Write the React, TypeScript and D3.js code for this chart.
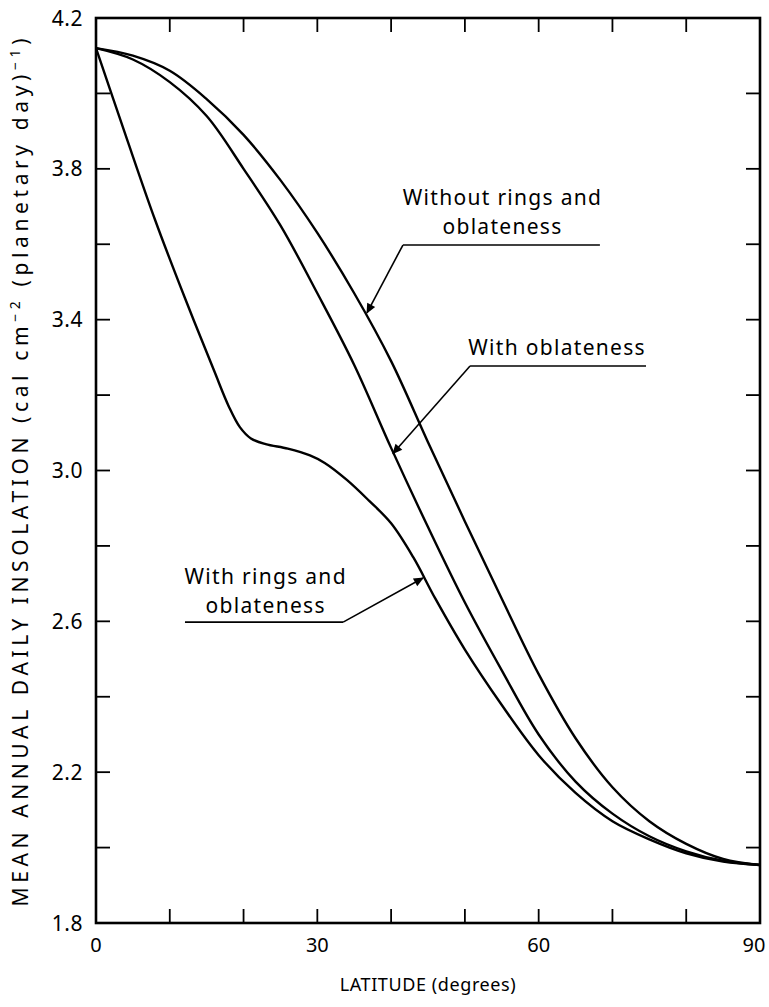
import React from "react";
import * as d3 from "d3";

const W = 769;
const H = 1007;

// Latitude (degrees) and mean annual daily insolation
const withoutLat = [0, 5, 10, 15, 20, 25, 30, 35, 40, 45, 50, 55, 60, 65, 70, 75, 80, 85, 90];
const withoutVal = [4.12, 4.10, 4.06, 3.985, 3.89, 3.77, 3.63, 3.47, 3.29, 3.075, 2.865, 2.66, 2.46, 2.29, 2.16, 2.07, 2.01, 1.97, 1.954];

const oblLat = [0, 5, 10, 15, 20, 25, 30, 35, 40, 45, 50, 55, 60, 65, 70, 75, 80, 85, 90];
const oblVal = [4.12, 4.09, 4.03, 3.94, 3.80, 3.65, 3.47, 3.28, 3.06, 2.85, 2.65, 2.47, 2.30, 2.175, 2.09, 2.03, 1.99, 1.965, 1.954];

const ringsLat = [0, 4, 8, 12, 16, 18, 19.5, 21, 23, 26, 29, 31, 34, 37, 40, 43, 46, 50, 55, 60, 65, 70, 75, 80, 85, 90];
const ringsVal = [4.12, 3.89, 3.665, 3.46, 3.265, 3.17, 3.115, 3.085, 3.07, 3.058, 3.04, 3.02, 2.975, 2.92, 2.86, 2.77, 2.66, 2.525, 2.378, 2.245, 2.145, 2.07, 2.022, 1.985, 1.963, 1.954];

const xTicks = [0, 10, 20, 30, 40, 50, 60, 70, 80, 90];
const xTickLabels = [0, 30, 60, 90];
const yTicks = [1.8, 2.0, 2.2, 2.4, 2.6, 2.8, 3.0, 3.2, 3.4, 3.6, 3.8, 4.0, 4.2];
const yTickLabels = [1.8, 2.2, 2.6, 3.0, 3.4, 3.8, 4.2];

// Annotation labels (text lines, text anchor, underline and arrow tip, in data units)
const annoLines = [
  ["Without rings and", "oblateness"],
  ["With oblateness"],
  ["With rings and", "oblateness"],
];
const annoTextLat = [55.1, 62.5, 23.0];
const annoTextVal = [3.704, 3.306, 2.699];
const annoUnderFrom = [41.6, 50.7, 12.06];
const annoUnderTo = [68.3, 74.55, 33.5];
const annoUnderVal = [3.598, 3.277, 2.598];
const annoTipLat = [36.73, 40.25, 44.32];
const annoTipVal = [3.418, 3.045, 2.715];
const annoStartIsRight = [false, false, true];

const FONT = "'Noto Sans', sans-serif";

export default function App() {
  const left = 96, right = 760, top = 18, bottom = 923;
  const x = d3.scaleLinear().domain([0, 90]).range([left, right]);
  const y = d3.scaleLinear().domain([1.8, 4.2]).range([bottom, top]);

  const line = d3
    .line<[number, number]>()
    .x((d) => x(d[0]))
    .y((d) => y(d[1]))
    .curve(d3.curveCatmullRom.alpha(0.5));

  const series = [
    d3.zip(withoutLat, withoutVal) as [number, number][],
    d3.zip(oblLat, oblVal) as [number, number][],
    d3.zip(ringsLat, ringsVal) as [number, number][],
  ];

  const tickLen = 14;
  const fs = 21;
  const lineGap = 29;

  return (
    <svg
      width={W}
      height={H}
      style={{ position: "absolute", left: 0, top: 0, background: "#fff" }}
      fontFamily={FONT}
    >
      <rect x={0} y={0} width={W} height={H} fill="#fff" />
      {/* ticks */}
      {xTicks.map((t) => (
        <g key={"xt" + t} stroke="#000" strokeWidth={1.8}>
          <line x1={x(t)} x2={x(t)} y1={bottom} y2={bottom - tickLen} />
          <line x1={x(t)} x2={x(t)} y1={top} y2={top + tickLen} />
        </g>
      ))}
      {yTicks.map((t) => (
        <g key={"yt" + t} stroke="#000" strokeWidth={1.8}>
          <line x1={left} x2={left + tickLen} y1={y(t)} y2={y(t)} />
          <line x1={right} x2={right - tickLen} y1={y(t)} y2={y(t)} />
        </g>
      ))}
      {/* frame */}
      <rect
        x={left}
        y={top}
        width={right - left}
        height={bottom - top}
        fill="none"
        stroke="#000"
        strokeWidth={2.6}
      />
      {/* tick labels */}
      {xTickLabels.map((t) => (
        <text
          key={"xl" + t}
          x={Math.min(x(t), 754)}
          y={952}
          textAnchor="middle"
          fontSize={20}
        >
          {t}
        </text>
      ))}
      {yTickLabels.map((t) => (
        <text
          key={"yl" + t}
          x={83}
          y={y(t) + 7.5}
          textAnchor="end"
          fontSize={fs}
          letterSpacing={0.5}
        >
          {t.toFixed(1)}
        </text>
      ))}
      {/* curves */}
      {series.map((s, i) => (
        <path
          key={"s" + i}
          d={line(s) || ""}
          fill="none"
          stroke="#000"
          strokeWidth={2.4}
          strokeLinejoin="round"
        />
      ))}
      {/* annotations */}
      <defs>
        <marker
          id="arr"
          viewBox="0 0 10 10"
          refX={9}
          refY={5}
          markerWidth={14}
          markerHeight={10}
          markerUnits="userSpaceOnUse"
          orient="auto"
        >
          <path d="M0,0.5 L10,5 L0,9.5 Z" fill="#000" />
        </marker>
      </defs>
      {annoLines.map((lines, i) => {
        const ux = annoStartIsRight[i] ? annoUnderTo[i] : annoUnderFrom[i];
        return (
          <g key={"a" + i}>
            {lines.map((ln, j) => (
              <text
                key={j}
                x={x(annoTextLat[i])}
                y={y(annoTextVal[i]) + j * lineGap}
                textAnchor="middle"
                fontSize={fs}
                letterSpacing={1.3}
              >
                {ln}
              </text>
            ))}
            <line
              x1={x(annoUnderFrom[i])}
              x2={x(annoUnderTo[i])}
              y1={y(annoUnderVal[i])}
              y2={y(annoUnderVal[i])}
              stroke="#000"
              strokeWidth={1.6}
            />
            <line
              x1={x(ux)}
              y1={y(annoUnderVal[i])}
              x2={x(annoTipLat[i])}
              y2={y(annoTipVal[i])}
              stroke="#000"
              strokeWidth={1.6}
              markerEnd="url(#arr)"
            />
          </g>
        );
      })}
      {/* axis titles */}
      <text
        x={428}
        y={991}
        textAnchor="middle"
        fontSize={18}
        letterSpacing={0.6}
      >
        LATITUDE (degrees)
      </text>
      <text
        transform={`translate(28,${(top + bottom) / 2 + 2}) rotate(-90)`}
        textAnchor="middle"
        fontSize={21}
        textLength={868}
        lengthAdjust="spacing"
      >
        MEAN ANNUAL DAILY INSOLATION (cal cm
        <tspan dy={-8} fontSize={14}>−2</tspan>
        <tspan dy={8}> (planetary day)</tspan>
        <tspan dy={-8} fontSize={14}>−1</tspan>
        <tspan dy={8}>)</tspan>
      </text>
    </svg>
  );
}
